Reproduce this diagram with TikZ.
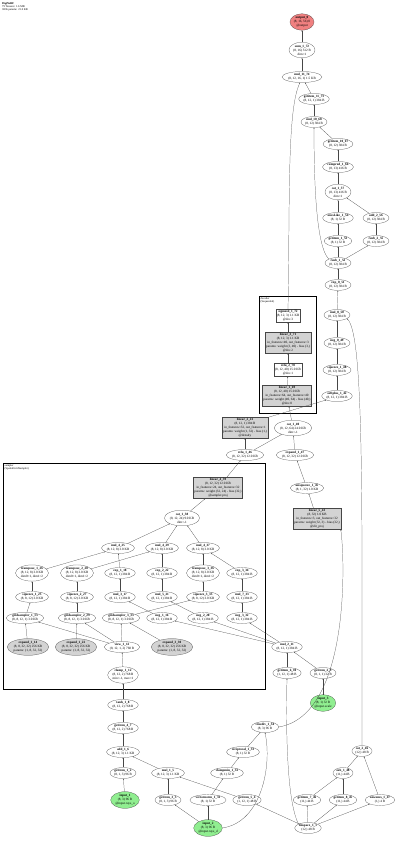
\documentclass[tikz,border=0pt]{standalone}
\usepackage{fontspec}
\setmainfont{Liberation Serif}
\definecolor{opgray}{RGB}{211,211,211}
\definecolor{opgreen}{RGB}{144,238,144}
\definecolor{opred}{RGB}{240,128,128}
\definecolor{edgeblack}{RGB}{70,70,70}
\usetikzlibrary{arrows.meta,shapes.geometric}

\begin{document}
\begin{tikzpicture}[x=1pt,y=-1pt,
    op/.style={ellipse,draw=edgeblack,line width=0.22pt,inner sep=0.4pt,align=center,font=\fontsize{3.3}{4}\selectfont},
    mod/.style={rectangle,draw=edgeblack,line width=0.22pt,inner sep=1pt,align=center,font=\fontsize{3.3}{4}\selectfont},
    modgray/.style={mod,fill=opgray},
    tensorin/.style={op,fill=opgreen},
    tensorout/.style={op,fill=opred},
    constgray/.style={op,fill=opgray},
    cluster/.style={draw=black,line width=1pt},
    clusterlbl/.style={font=\fontsize{2.8}{3.3}\selectfont,align=left,anchor=north west,inner sep=0pt},
    edge/.style={-{Stealth[length=1.3pt,width=1pt]},line width=0.22pt,edgeblack}]

    \useasboundingbox (0,0) rectangle (400,841);

    % Cabecalho
    \node[clusterlbl] (header) at (2,2)
        {\textbf{DigiNeRF}\\79 Tensors: 1.6 MB\\3836 params: 21.0 KB};

    % Coluna de saida (renderizacao)
    \node[tensorout] (out0) at (302,22) {\textbf{output\_0}\\(8, 16, 56) 0\\@output};
    \node[op] (sum172) at (302,50) {\textbf{sum\_1\_72}\\(8, 16) 512 B\\dim=1};
    \node[op] (mul1174) at (302,77) {\textbf{mul\_11\_74}\\(8, 12, 16, 1) 1.5 KB};
    \node[op] (get1173) at (314,99) {\textbf{getitem\_11\_73}\\(8, 12, 1) 384 B};
    \node[op] (mul1068) at (314,122) {\textbf{mul\_10\_68}\\(8, 12) 384 B};
    \node[op] (get1067) at (338,144) {\textbf{getitem\_10\_67}\\(8, 12) 384 B};
    \node[op] (cprod166) at (338,167) {\textbf{cumprod\_1\_66}\\(8, 13) 416 B};
    \node[op] (cat157) at (338,192) {\textbf{cat\_1\_57}\\(8, 13) 416 B\\dim=1};
    \node[op] (ones154) at (338,218) {\textbf{onesLike\_1\_54}\\(8, 1) 32 B};
    \node[op] (add256) at (376,218) {\textbf{add\_2\_56}\\(8, 12) 384 B};
    \node[op] (get153) at (338,241) {\textbf{getitem\_1\_53}\\(8, 1) 32 B};
    \node[op] (rsub255) at (376,241) {\textbf{rsub\_2\_55}\\(8, 12) 384 B};
    \node[op] (rsub152) at (338,263) {\textbf{rsub\_1\_52}\\(8, 12) 384 B};
    \node[op] (exp051) at (338,285) {\textbf{exp\_0\_51}\\(8, 12) 384 B};
    \node[op] (mul050) at (337,315) {\textbf{mul\_0\_50}\\(8, 12) 384 B};
    \node[op] (neg049) at (337,343) {\textbf{neg\_0\_49}\\(8, 12) 384 B};
    \node[op] (sq148) at (337,370) {\textbf{squeeze\_1\_48}\\(8, 12) 384 B};
    \node[op] (softp142) at (337,396) {\textbf{softplus\_1\_42}\\(8, 12, 1) 384 B};

    % Decoder
    \draw[cluster] (259,296) rectangle (316,413);
    \node[clusterlbl] (declbl) at (260.5,297.5) {decoder\\(Sequential)};
    \node[mod] (sig172) at (288,316) {\textbf{sigmoid\_1\_72}\\(8, 12, 3) 1.1 KB\\@dec.3};
    \node[modgray] (lin371) at (288,343)
        {\textbf{linear\_3\_71}\\(8, 12, 3) 1.1 KB\\in\_features=40, out\_features=3\\params: weight (3, 40) - bias (3,)\\@dec.2};
    \node[mod] (relu270) at (288,370) {\textbf{relu\_2\_70}\\(8, 12, 40) 15.0 KB\\@dec.1};
    \node[modgray] (lin169) at (287,396)
        {\textbf{linear\_1\_69}\\(8, 12, 40) 15.0 KB\\in\_features=64, out\_features=40\\params: weight (40, 64) - bias (40,)\\@dec.0};

    % Meio
    \node[modgray] (lin241) at (245,428)
        {\textbf{linear\_2\_41}\\(8, 12, 1) 384 B\\in\_features=32, out\_features=1\\params: weight (1, 32) - bias (1,)\\@density};
    \node[op] (cat140) at (293,428) {\textbf{cat\_1\_40}\\(8, 12, 64) 24.0 KB\\dim=-1};
    \node[op] (relu146) at (245,455) {\textbf{relu\_1\_46}\\(8, 12, 32) 12.0 KB};
    \node[op] (exp147) at (295,455) {\textbf{expand\_1\_47}\\(8, 12, 32) 12.0 KB};
    \node[op] (unsq145) at (307,488) {\textbf{unsqueeze\_1\_45}\\(8, 1, 32) 1.0 KB};
    \node[modgray] (lin543) at (317,519)
        {\textbf{linear\_5\_43}\\(8, 32) 1.0 KB\\in\_features=3, out\_features=32\\params: weight (32, 3) - bias (32,)\\@dir\_proj};

    % Amostrador espacial
    \draw[cluster] (3,463) rectangle (265,689);
    \node[clusterlbl] (bodylbl) at (4.5,464.5) {sampler\\(SpatialGridSampler)};
    \node[modgray] (lin439) at (218,488)
        {\textbf{linear\_4\_39}\\(8, 12, 32) 12.0 KB\\in\_features=24, out\_features=32\\params: weight (32, 24) - bias (32,)\\@sampler.proj};
    \node[op] (cat138) at (182,518) {\textbf{cat\_1\_38}\\(8, 12, 24) 9.0 KB\\dim=-1};
    \node[op] (mul425) at (118,548) {\textbf{mul\_4\_25}\\(8, 12, 8) 3.0 KB};
    \node[op] (mul429) at (162,548) {\textbf{mul\_4\_29}\\(8, 12, 8) 3.0 KB};
    \node[op] (mul437) at (203,548) {\textbf{mul\_4\_37}\\(8, 12, 8) 3.0 KB};
    \node[op] (tr126) at (32,573) {\textbf{transpose\_1\_26}\\(8, 12, 8) 3.0 KB\\dim0=1, dim1=2};
    \node[op] (tr228) at (77,573) {\textbf{transpose\_2\_28}\\(8, 12, 8) 3.0 KB\\dim0=1, dim1=2};
    \node[op] (exp118) at (120,573) {\textbf{exp\_1\_18}\\(8, 12, 1) 384 B};
    \node[op] (exp222) at (162,573) {\textbf{exp\_2\_22}\\(8, 12, 1) 384 B};
    \node[op] (tr336) at (203,573) {\textbf{transpose\_3\_36}\\(8, 12, 8) 3.0 KB\\dim0=1, dim1=2};
    \node[op] (exp334) at (242,573) {\textbf{exp\_3\_34}\\(8, 12, 1) 384 B};
    \node[op] (sq125) at (32,597) {\textbf{squeeze\_1\_25}\\(8, 8, 12) 3.0 KB};
    \node[op] (sq227) at (77,597) {\textbf{squeeze\_2\_27}\\(8, 8, 12) 3.0 KB};
    \node[op] (mul317) at (120,597) {\textbf{mul\_3\_17}\\(8, 12, 1) 384 B};
    \node[op] (mul521) at (162,597) {\textbf{mul\_5\_21}\\(8, 12, 1) 384 B};
    \node[op] (sq335) at (203,597) {\textbf{squeeze\_3\_35}\\(8, 8, 12) 3.0 KB};
    \node[op] (mul733) at (242,597) {\textbf{mul\_7\_33}\\(8, 12, 1) 384 B};
    \node[op] (gs113) at (25,618) {\textbf{gridsampler\_1\_13}\\(8, 8, 12, 1) 3.0 KB};
    \node[op] (gs229) at (77,618) {\textbf{gridsampler\_2\_29}\\(8, 8, 12, 1) 3.0 KB};
    \node[op] (gs333) at (121,618) {\textbf{gridsampler\_3\_33}\\(8, 8, 12, 1) 3.0 KB};
    \node[op] (neg116) at (162,618) {\textbf{neg\_1\_16}\\(8, 12, 1) 384 B};
    \node[op] (neg220) at (203,618) {\textbf{neg\_2\_20}\\(8, 12, 1) 384 B};
    \node[op] (neg332) at (242,618) {\textbf{neg\_3\_32}\\(8, 12, 1) 384 B};
    \node[constgray] (expd114) at (28,647) {\textbf{expand\_1\_14}\\(8, 8, 32, 32) 256 KB\\params: (1, 8, 32, 32)};
    \node[constgray] (expd122) at (76,647) {\textbf{expand\_1\_22}\\(8, 8, 32, 32) 256 KB\\params: (1, 8, 32, 32)};
    \node[op] (view112) at (122,647) {\textbf{view\_1\_12}\\(8, 12, 1, 2) 768 B};
    \node[constgray] (expd330) at (172,647) {\textbf{expand\_3\_30}\\(8, 8, 32, 32) 256 KB\\params: (1, 8, 32, 32)};
    \node[op] (clamp112) at (123,675) {\textbf{clamp\_1\_12}\\(8, 12, 2) 768 B\\min=-1, max=1};

    % Entradas e raios
    \node[op] (tanh18) at (123,705) {\textbf{tanh\_1\_8}\\(8, 12, 2) 768 B};
    \node[op] (get47) at (123,728) {\textbf{getitem\_4\_7}\\(8, 12, 2) 768 B};
    \node[op] (add16) at (123,752) {\textbf{add\_1\_6}\\(8, 12, 3) 1.1 KB};
    \node[op] (get12) at (123,773) {\textbf{getitem\_1\_2}\\(8, 1, 3) 96 B};
    \node[tensorin] (in1) at (125,800) {\textbf{input\_1}\\(8, 3) 96 B\\@input.rays\_o};
    \node[op] (mul15) at (168,773) {\textbf{mul\_1\_5}\\(8, 12, 3) 1.1 KB};
    \node[op] (get33) at (168,800) {\textbf{getitem\_3\_3}\\(8, 1, 3) 96 B};
    \node[op] (vnorm) at (208,800) {\textbf{vectornorm\_1\_31}\\(8, 1) 32 B};
    \node[op] (get54) at (247,800) {\textbf{getitem\_5\_4}\\(1, 12, 1) 48 B};
    \node[tensorin] (in2) at (208,828) {\textbf{input\_2}\\(8, 3) 96 B\\@input.rays\_d};
    \node[op] (cmin132) at (227,773) {\textbf{clampmin\_1\_32}\\(8, 1) 32 B};
    \node[op] (recip133) at (243,752) {\textbf{reciprocal\_1\_33}\\(8, 1) 32 B};
    \node[op] (tdiv134) at (265,727) {\textbf{truediv\_1\_34}\\(8, 3) 96 B};
    \node[op] (mul211) at (287,647) {\textbf{mul\_2\_11}\\(8, 12, 1) 384 B};
    \node[op] (get610) at (287,673) {\textbf{getitem\_6\_10}\\(1, 12, 1) 48 B};
    \node[op] (get29) at (323,673) {\textbf{getitem\_2\_9}\\(8, 1, 1) 32 B};
    \node[tensorin] (in3) at (323,703) {\textbf{input\_3}\\(8, 1) 32 B\\@input.scale};
    \node[op] (lsp11) at (308,828) {\textbf{linspace\_1\_1}\\(12,) 48 B};
    \node[op] (get746) at (307,800) {\textbf{getitem\_7\_46}\\(11,) 44 B};
    \node[op] (get845) at (343,800) {\textbf{getitem\_8\_45}\\(11,) 44 B};
    \node[op] (ones147) at (380,800) {\textbf{newones\_1\_47}\\(1,) 4 B};
    \node[op] (sub148) at (343,773) {\textbf{sub\_1\_48}\\(11,) 44 B};
    \node[op] (cat246) at (362,751) {\textbf{cat\_2\_46}\\(12,) 48 B};

    % Ligacoes retas
    \foreach \a/\b in {sum172/out0, mul1174/sum172, get1173/mul1174, mul1068/get1173,
        get1067/mul1068, cprod166/get1067, cat157/cprod166, ones154/cat157, add256/cat157,
        get153/ones154, rsub255/add256, rsub152/get153, rsub152/rsub255, exp051/rsub152,
        mul050/exp051, neg049/mul050, sq148/neg049, softp142/sq148,
        lin169/relu270, relu270/lin371, lin371/sig172, cat140/lin169,
        relu146/lin241, relu146/cat140, exp147/cat140, unsq145/exp147, lin543/unsq145,
        lin439/relu146, cat138/lin439, mul425/cat138, mul429/cat138, mul437/cat138,
        tr126/mul425, exp118/mul425, tr228/mul429, exp222/mul429, tr336/mul437, exp334/mul437,
        sq125/tr126, sq227/tr228, mul317/exp118, mul521/exp222, sq335/tr336, mul733/exp334,
        gs113/sq125, gs229/sq227, gs333/sq335, neg116/mul317, neg220/mul521, neg332/mul733,
        expd114/gs113, expd122/gs229, expd330/gs333, view112/gs113, view112/gs229, view112/gs333,
        clamp112/view112, tanh18/clamp112, get47/tanh18, add16/get47, get12/add16, mul15/add16,
        in1/get12, get33/mul15, get54/mul15, in2/get33, in2/vnorm, vnorm/cmin132,
        cmin132/recip133, recip133/tdiv134, lsp11/get54, lsp11/get746, lsp11/get845,
        lsp11/ones147, get746/sub148, get845/sub148, sub148/cat246, ones147/cat246,
        get610/mul211, get29/mul211, in3/get29, mul211/neg116, mul211/neg220, mul211/neg332}
        \draw[edge] (\a) -- (\b);
    \draw[edge] (lin241.north east) -- (softp142.south west);

    % Ligacoes curvas
    \draw[edge] (sig172.north) .. controls (290,200) and (287,110) .. (mul1174.-110);
    \draw[edge] (rsub152.north west) .. controls (315,245) and (314,170) .. (mul1068.south);
    \draw[edge] (cat246.north) .. controls (362,500) and (364,335) .. (mul050.-20);
    \draw[edge] (tdiv134.east) .. controls (350,715) and (345,560) .. (lin543.south east);
    \draw[edge] (in2.east) .. controls (262,822) and (272,765) .. (tdiv134.south);
    \draw[edge] (lsp11.north west) .. controls (286,800) and (286,720) .. (get610.south);

\end{tikzpicture}
\end{document}
